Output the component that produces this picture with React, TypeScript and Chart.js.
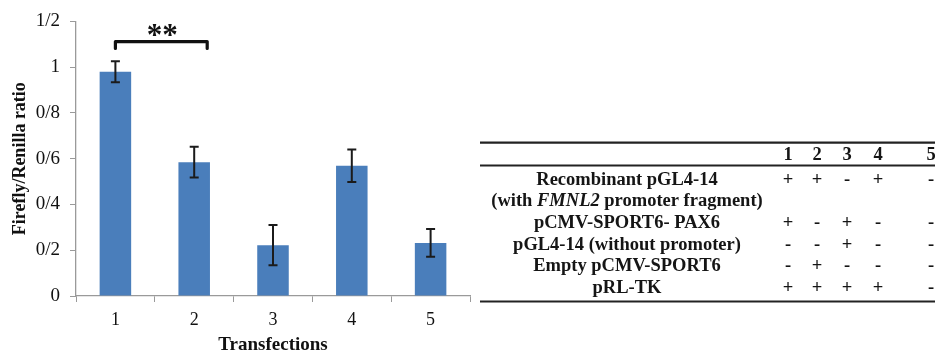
import React, { useEffect, useRef } from "react";
import { Chart, registerables } from "chart.js";

Chart.register(...registerables);

const categories = ["1", "2", "3", "4", "5"];
const ratioValues = [0.98, 0.585, 0.222, 0.569, 0.232];
const ratioErrors = [0.046, 0.067, 0.088, 0.071, 0.061];
const yTickLabels = ["0", "0/2", "0/4", "0/6", "0/8", "1", "1/2"];
const bracketFrom = 0;
const bracketTo = 1;
const bracketLevel = 1.112;
const bracketDrop = 0.03;
const bracketLabel = "**";

const tableColumns = ["1", "2", "3", "4", "5"];
const tableRowLabels = [
  [{ t: "Recombinant pGL4-14" }],
  [{ t: "(with " }, { t: "FMNL2", i: true }, { t: " promoter fragment)" }],
  [{ t: "pCMV-SPORT6- PAX6" }],
  [{ t: "pGL4-14 (without promoter)" }],
  [{ t: "Empty pCMV-SPORT6" }],
  [{ t: "pRL-TK" }],
];
const tableMarks = [
  ["+", "+", "-", "+", "-"],
  [],
  ["+", "-", "+", "-", "-"],
  ["-", "-", "+", "-", "-"],
  ["-", "+", "-", "-", "-"],
  ["+", "+", "+", "+", "-"],
];

const SERIF = "'Liberation Serif', 'Times New Roman', serif";

const errorBarPlugin = {
  id: "errorBars",
  afterDatasetsDraw(chart: any) {
    const { ctx, scales } = chart;
    const xs = scales.x;
    const ys = scales.y;
    ctx.save();
    ctx.strokeStyle = "#1b1b1b";
    ctx.lineWidth = 2;
    ratioValues.forEach((v, i) => {
      const x = xs.getPixelForValue(i);
      const yt = ys.getPixelForValue(v + ratioErrors[i]);
      const yb = ys.getPixelForValue(v - ratioErrors[i]);
      ctx.beginPath();
      ctx.moveTo(x, yt);
      ctx.lineTo(x, yb);
      ctx.moveTo(x - 4.5, yt);
      ctx.lineTo(x + 4.5, yt);
      ctx.moveTo(x - 4.5, yb);
      ctx.lineTo(x + 4.5, yb);
      ctx.stroke();
    });
    // significance bracket
    const x1 = xs.getPixelForValue(bracketFrom);
    const x2 = xs.getPixelForValue(bracketTo) + 13;
    const yb = ys.getPixelForValue(bracketLevel);
    const yd = ys.getPixelForValue(bracketLevel - bracketDrop);
    ctx.strokeStyle = "#111";
    ctx.lineWidth = 3.2;
    ctx.lineJoin = "round";
    ctx.lineCap = "round";
    ctx.beginPath();
    ctx.moveTo(x1, yd);
    ctx.lineTo(x1, yb);
    ctx.lineTo(x2, yb);
    ctx.lineTo(x2, yd);
    ctx.stroke();
    ctx.fillStyle = "#111";
    ctx.font = `bold 31px ${SERIF}`;
    ctx.textAlign = "center";
    ctx.textBaseline = "alphabetic";
    ctx.fillText(bracketLabel, (x1 + x2) / 2 + 1, yb + 3);
    ctx.restore();
  },
};

const tablePlugin = {
  id: "transfectionTable",
  afterDraw(chart: any) {
    const { ctx } = chart;
    const left = 480;
    const right = 935;
    const labelCenter = 627;
    const colX = [788, 817, 847, 878, 931];
    const rowY = [180, 201.7, 223.3, 245, 266.7, 288.5];
    ctx.save();
    ctx.strokeStyle = "#222";
    ctx.lineWidth = 2.2;
    [142.7, 165.5, 301.5].forEach((y) => {
      ctx.beginPath();
      ctx.moveTo(left, y);
      ctx.lineTo(right, y);
      ctx.stroke();
    });
    ctx.fillStyle = "#151515";
    ctx.textBaseline = "middle";
    ctx.textAlign = "center";
    const fs = 18.5;
    ctx.font = `bold ${fs}px ${SERIF}`;
    tableColumns.forEach((c, j) => ctx.fillText(c, colX[j], 155));
    tableRowLabels.forEach((segs, r) => {
      const fonts = segs.map((s: any) => (s.i ? `italic bold ${fs}px ${SERIF}` : `bold ${fs}px ${SERIF}`));
      let total = 0;
      const widths = segs.map((s: any, k: number) => {
        ctx.font = fonts[k];
        const w = ctx.measureText(s.t).width;
        total += w;
        return w;
      });
      let x = labelCenter - total / 2;
      ctx.textAlign = "left";
      segs.forEach((s: any, k: number) => {
        ctx.font = fonts[k];
        ctx.fillText(s.t, x, rowY[r]);
        x += widths[k];
      });
      ctx.textAlign = "center";
      ctx.font = `bold ${fs}px ${SERIF}`;
      tableMarks[r].forEach((m, j) => ctx.fillText(m, colX[j], rowY[r]));
    });
    ctx.restore();
  },
};

export default function App() {
  const ref = useRef<HTMLCanvasElement | null>(null);
  useEffect(() => {
    if (!ref.current) return;
    const chart = new Chart(ref.current, {
      type: "bar",
      data: {
        labels: categories,
        datasets: [
          {
            data: ratioValues,
            backgroundColor: "#4A7EBB",
            borderWidth: 0,
            categoryPercentage: 1,
            barPercentage: 0.4,
          },
        ],
      },
      options: {
        animation: false,
        responsive: false,
        devicePixelRatio: 1,
        layout: { padding: { left: 0, top: 19.5, right: 465, bottom: 0 } },
        plugins: { legend: { display: false }, tooltip: { enabled: false } },
        scales: {
          x: {
            grid: {
              display: true,
              drawOnChartArea: false,
              drawTicks: true,
              tickLength: 6,
              color: "#9a9a9a",
              offset: true,
            },
            border: { display: true, color: "#9a9a9a", width: 1.3 },
            ticks: {
              color: "#111",
              font: { family: SERIF, size: 18 },
              padding: 7,
              maxRotation: 0,
            },
            title: {
              display: true,
              text: "Transfections",
              color: "#111",
              font: { family: SERIF, size: 19, weight: "bold" },
              padding: { top: 0, bottom: 0 },
            },
            afterFit: (s: any) => {
              s.height = 60;
            },
          },
          y: {
            min: 0,
            max: 1.2,
            grid: {
              display: true,
              drawOnChartArea: false,
              drawTicks: true,
              tickLength: 6,
              color: "#9a9a9a",
            },
            border: { display: true, color: "#9a9a9a", width: 1.3 },
            ticks: {
              stepSize: 0.2,
              color: "#111",
              font: { family: SERIF, size: 19 },
              padding: 10,
              callback: (_v: any, i: number) => yTickLabels[i],
            },
            title: {
              display: true,
              text: "Firefly/Renilla ratio",
              color: "#111",
              font: { family: SERIF, size: 18, weight: "bold" },
              padding: { top: 10, bottom: 0 },
            },
            afterFit: (s: any) => {
              s.width = 76;
            },
          },
        },
      },
      plugins: [errorBarPlugin, tablePlugin],
    });
    return () => chart.destroy();
  }, []);
  return (
    <div style={{ position: "absolute", left: 0, top: 0, width: 935, height: 356, background: "#fff" }}>
      <canvas ref={ref} width={935} height={356} style={{ display: "block" }} />
    </div>
  );
}
